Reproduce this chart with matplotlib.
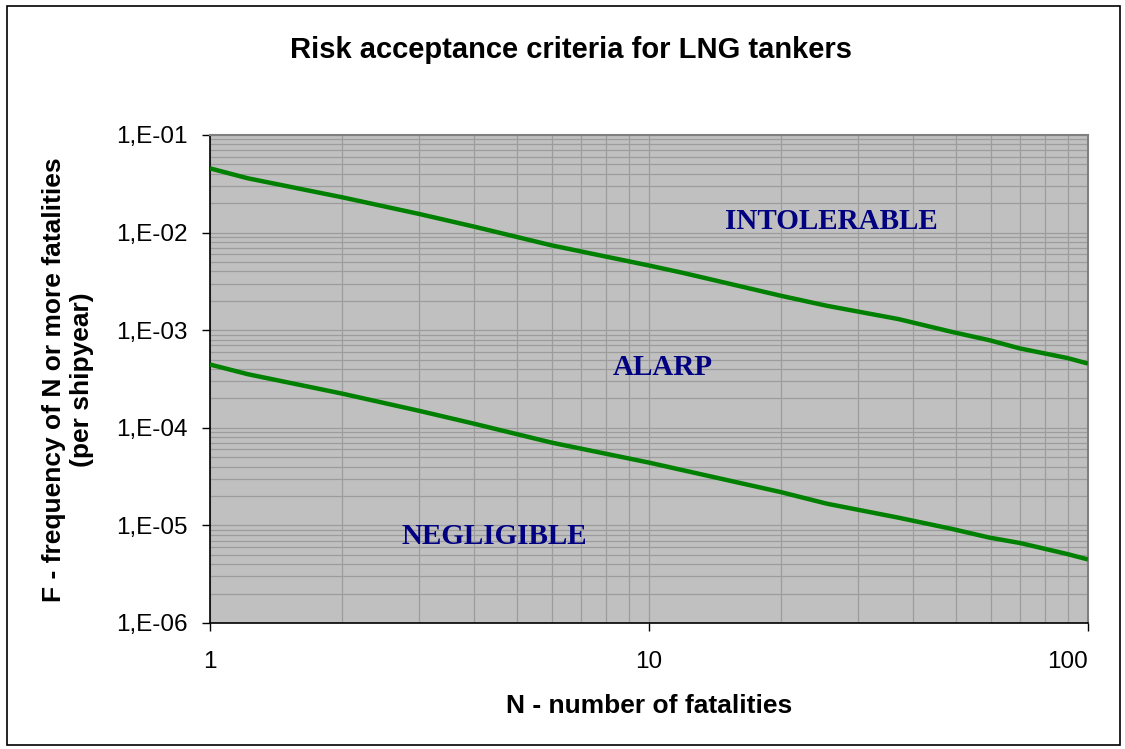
import matplotlib
matplotlib.use("Agg")
import matplotlib.pyplot as plt
from matplotlib.ticker import FuncFormatter, LogLocator, FixedLocator
from matplotlib.patches import Rectangle
import numpy as np

# ---- data ----
n_upper = [1, 1.22, 2, 3, 4, 6, 10, 12, 20, 25.4, 37, 49, 59.6, 70, 89.5, 100]
f_upper = [4.55e-2, 3.6e-2, 2.3e-2, 1.55e-2, 1.15e-2, 7.4e-3, 4.6e-3, 3.85e-3,
           2.25e-3, 1.78e-3, 1.3e-3, 9.6e-4, 7.9e-4, 6.5e-4, 5.2e-4, 4.55e-4]
n_lower = [1, 1.22, 2, 3, 4, 6, 10, 12, 20, 25.4, 37, 49, 59.6, 70, 89.5, 100]
f_lower = [4.45e-4, 3.54e-4, 2.24e-4, 1.49e-4, 1.10e-4, 7.05e-5, 4.40e-5, 3.66e-5,
           2.19e-5, 1.67e-5, 1.20e-5, 9.2e-6, 7.5e-6, 6.6e-6, 5.1e-6, 4.48e-6]
x_ticks = [1, 10, 100]
x_tick_labels = ["1", "10", "100"]
y_ticks = [1e-6, 1e-5, 1e-4, 1e-3, 1e-2, 1e-1]
y_tick_labels = ["1,E-06", "1,E-05", "1,E-04", "1,E-03", "1,E-02", "1,E-01"]
region_labels = ["INTOLERABLE", "ALARP", "NEGLIGIBLE"]

title = "Risk acceptance criteria for LNG tankers"
xlabel = "N - number of fatalities"
ylabel = "F - frequency of N or more fatalities\n(per shipyear)"

SANS = ["Liberation Sans", "DejaVu Sans"]
SERIF = ["Liberation Serif", "DejaVu Serif"]

fig = plt.figure(figsize=(11.25, 7.49), dpi=100)
W, H = 1125, 749
L, R, T, B = 210, 1088, 135, 623
ax = fig.add_axes([L / W, 1 - B / H, (R - L) / W, (B - T) / H])
ax.set_facecolor("#C0C0C0")

ax.set_xscale("log")
ax.set_yscale("log")
ax.set_xlim(1, 100)
ax.set_ylim(1e-6, 1e-1)

ax.plot(n_upper, f_upper, color="#008000", lw=3.2, solid_capstyle="butt", zorder=3)
ax.plot(n_lower, f_lower, color="#008000", lw=3.2, solid_capstyle="butt", zorder=3)

# grid
ax.xaxis.set_major_locator(FixedLocator(x_ticks))
ax.yaxis.set_major_locator(FixedLocator(y_ticks))
ax.xaxis.set_minor_locator(LogLocator(base=10, subs=np.arange(2, 10)))
ax.yaxis.set_minor_locator(LogLocator(base=10, subs=np.arange(2, 10), numticks=20))
ax.grid(True, which="both", color="#9C9C9C", lw=0.9, zorder=1)
ax.set_axisbelow(True)

ax.set_xticklabels(x_tick_labels)
ax.set_yticklabels(y_tick_labels)
ax.xaxis.set_minor_formatter(FuncFormatter(lambda v, p: ""))
ax.yaxis.set_minor_formatter(FuncFormatter(lambda v, p: ""))

ax.tick_params(which="minor", length=0)
ax.tick_params(which="major", direction="out", length=6, width=1, color="black",
               labelsize=17.5)
ax.tick_params(axis="y", pad=10)
ax.tick_params(axis="x", pad=14)
for lab in ax.get_xticklabels() + ax.get_yticklabels():
    lab.set_family(SANS)
xl = ax.get_xticklabels()
xl[-1].set_horizontalalignment("right")

for s in ["left", "bottom"]:
    ax.spines[s].set_color("black")
    ax.spines[s].set_linewidth(1.2)
for s in ["top", "right"]:
    ax.spines[s].set_color("#808080")
    ax.spines[s].set_linewidth(1.5)

# region labels
pos = [(0.708, 0.822), (0.516, 0.524), (0.3235, 0.177)]
for txt, (px, py) in zip(region_labels, pos):
    ax.text(px, py, txt, transform=ax.transAxes, ha="center", va="center",
            fontsize=21, fontweight="bold", color="#000080", family=SERIF, zorder=4)

fig.text(571 / W, 1 - 50 / H, title, ha="center", va="center",
         fontsize=21, fontweight="bold", family=SANS)
fig.text(649 / W, 1 - 706 / H, xlabel, ha="center", va="center",
         fontsize=19, fontweight="bold", family=SANS)
fig.text(68 / W, 1 - 380 / H, ylabel, ha="center", va="center", rotation=90,
         fontsize=19, fontweight="bold", family=SANS, linespacing=1.2,
         multialignment="center")

# outer frame
fig.patches.append(Rectangle((7 / W, 4 / H), 1 - 12 / W, 1 - 10 / H,
                             transform=fig.transFigure, fill=False,
                             edgecolor="black", lw=1.2))

fig.savefig("out.png", dpi=100)
